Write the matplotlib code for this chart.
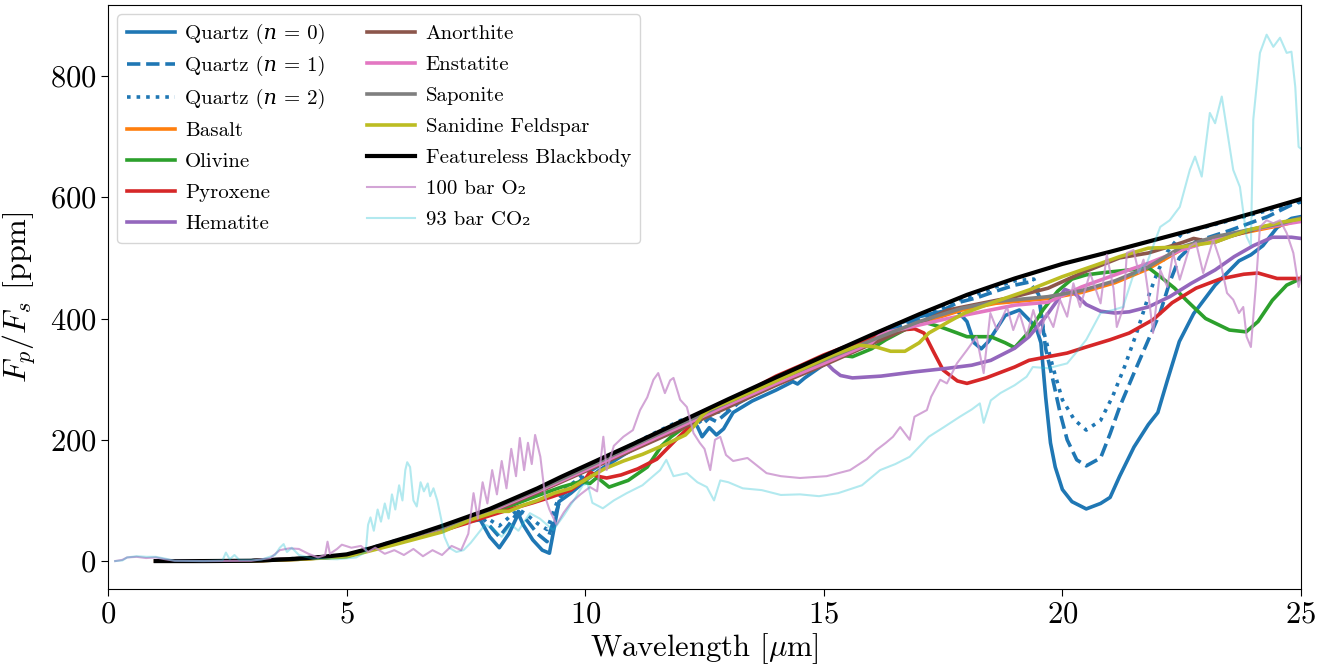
import numpy as np
import matplotlib
matplotlib.use("Agg")
import matplotlib.pyplot as plt

plt.rcParams['font.family'] = 'serif'
plt.rcParams['font.serif'] = ['cmr10', 'DejaVu Serif']
plt.rcParams['mathtext.fontset'] = 'cm'
plt.rcParams['axes.formatter.use_mathtext'] = True

# ---- data (wavelength in micron, Fp/Fs in ppm) ----
bb_wl = [1, 2, 3, 3.5, 4, 4.5, 5, 5.5, 6, 6.5, 7, 7.5, 8, 8.5, 9, 9.5, 10, 11, 12, 13, 14, 15, 16, 17, 18, 19, 20, 21, 22, 23, 24, 25]
bb_val = [0, 0, 0.5, 2, 4, 7, 11, 21, 33, 45, 58, 72, 86, 103, 120, 139, 157, 193, 230, 267, 303, 338, 373, 407, 439, 466, 490, 510, 531, 552, 574, 597]

q0_wl = [1, 2, 3, 4, 5, 6, 7, 7.5, 7.8, 8.0, 8.2, 8.4, 8.6, 8.7, 8.9, 9.1, 9.25, 9.35, 9.45, 9.7, 10, 10.3, 10.8, 11.3, 11.8, 12.2, 12.35, 12.45, 12.6, 12.75, 12.9, 13.1, 13.5, 14.0, 14.35, 14.45, 14.6, 15.2, 15.9, 16.5, 17.0, 17.5, 17.8, 18.0, 18.15, 18.3, 18.45, 18.8, 19.1, 19.3, 19.45, 19.55, 19.65, 19.75, 19.85, 20.0, 20.2, 20.5, 20.8, 21.0, 21.2, 21.5, 21.8, 22.0, 22.2, 22.45, 22.75, 23.2, 23.7, 23.95, 24.2, 24.5, 24.8, 25]
q0_val = [0, 0, 0.4, 4, 9, 31, 53, 65, 68, 40, 22, 45, 78, 60, 35, 18, 13, 55, 98, 112, 132, 150, 175, 198, 220, 234, 222, 205, 220, 208, 218, 245, 264, 282, 296, 292, 302, 335, 368, 390, 403, 412, 412, 395, 360, 350, 362, 405, 414, 398, 385, 360, 270, 195, 155, 118, 98, 86, 95, 105, 140, 188, 225, 245, 298, 362, 408, 455, 495, 505, 520, 550, 565, 568]

q1_wl = [1, 2, 3, 4, 5, 6, 7, 7.5, 7.8, 8.0, 8.2, 8.4, 8.6, 8.75, 9.0, 9.2, 9.35, 9.5, 9.8, 10.1, 10.5, 11, 11.5, 12, 12.35, 12.45, 12.6, 12.75, 12.9, 13.2, 13.6, 14, 14.5, 15, 15.5, 16, 16.5, 17, 17.5, 17.8, 18.2, 18.6, 19.0, 19.3, 19.5, 19.65, 19.8, 19.95, 20.1, 20.3, 20.5, 20.8, 21.0, 21.2, 21.5, 21.77, 22.05, 22.25, 22.45, 22.8, 23.5, 24.3, 25]
q1_val = [0, 0, 0.4, 4, 9, 32, 55, 68, 75, 58, 40, 60, 82, 70, 45, 32, 70, 108, 125, 148, 168, 190, 210, 230, 235, 225, 236, 230, 240, 260, 278, 295, 315, 332, 350, 368, 385, 400, 414, 426, 434, 445, 455, 460, 440, 350, 299, 245, 200, 167, 157, 170, 210, 254, 310, 359, 410, 460, 500, 527, 545, 568, 595]

q2_wl = [1, 2, 3, 4, 5, 6, 7, 7.5, 7.8, 8.0, 8.2, 8.4, 8.6, 8.75, 9.0, 9.2, 9.35, 9.5, 9.8, 10.1, 10.5, 11, 11.5, 12, 12.4, 12.6, 12.9, 13.2, 13.6, 14, 14.5, 15, 15.5, 16, 16.5, 17, 17.5, 17.8, 18.2, 18.6, 19.0, 19.4, 19.5, 19.6, 19.8, 20.0, 20.25, 20.5, 20.8, 21.05, 21.3, 21.55, 21.8, 22.0, 22.2, 22.5, 23, 24, 25]
q2_val = [0, 0, 0.45, 4.5, 9.5, 33, 56, 70, 80, 68, 58, 72, 85, 78, 62, 52, 85, 115, 132, 152, 172, 193, 213, 232, 238, 242, 248, 262, 280, 297, 317, 334, 352, 370, 387, 402, 418, 430, 440, 452, 462, 465, 447, 381, 320, 266, 233, 216, 232, 271, 320, 375, 436, 478, 510, 540, 551, 572, 592]

mineral_wl = [1, 2, 3, 4, 5, 6, 7, 8, 9, 10, 11, 12, 13, 14, 15, 16, 17, 17.9, 18.6, 19.7, 20.4, 21.1, 21.8, 22.5, 23.2, 23.9, 24.6, 25]
basalt_val = [0, 0, 0.4, 4, 9, 31, 54, 82, 115, 150, 187, 223, 259, 294, 328, 361, 392, 414, 425, 433, 443, 459, 482, 514, 531, 543, 554, 563]
saponite_val = [0, 0, 0.45, 4.5, 9.5, 32, 55, 84, 117, 153, 190, 226, 262, 298, 331, 364, 395, 417, 428, 436, 446, 462, 485, 518, 535, 546, 557, 566]

olivine_wl = [1, 2, 3, 4, 5, 6, 7, 8, 9, 9.5, 9.9, 10.1, 10.25, 10.5, 10.9, 11.3, 11.6, 11.8, 12.1, 12.5, 13, 13.5, 14, 14.5, 15, 15.3, 15.6, 16, 16.3, 16.9, 17.1, 17.45, 17.8, 18.0, 18.5, 18.8, 19.0, 19.3, 19.6, 19.9, 20.2, 20.5, 20.9, 21.4, 21.8, 22.1, 22.35, 22.6, 23.0, 23.5, 23.85, 24.1, 24.4, 24.7, 25]
olivine_val = [0, 0, 0.3, 3, 8, 29, 50, 78, 108, 122, 131, 128, 138, 122, 133, 155, 190, 205, 222, 240, 262, 282, 300, 318, 333, 340, 337, 350, 365, 390, 394, 386, 376, 370, 370, 360, 352, 378, 415, 445, 465, 472, 476, 480, 484, 466, 450, 430, 400, 381, 378, 395, 430, 455, 466]

pyroxene_wl = [1, 2, 3, 4, 5, 6, 7, 7.5, 8, 8.5, 8.9, 9.3, 9.7, 10.0, 10.1, 10.25, 10.45, 10.75, 11.1, 11.5, 11.9, 12.3, 12.7, 13, 13.5, 14, 14.5, 15, 15.5, 16, 16.6, 16.9, 17.1, 17.3, 17.5, 17.8, 18.0, 18.4, 19.0, 19.3, 19.7, 20.1, 20.5, 21.0, 21.4, 21.9, 22.3, 22.8, 23.3, 23.8, 24.1, 24.5, 25]
pyroxene_val = [0, 0, 0.3, 3, 8, 29, 50, 62, 75, 87, 96, 106, 117, 135, 147, 140, 137, 142, 152, 168, 200, 230, 244, 262, 284, 305, 322, 340, 355, 368, 381, 383, 376, 345, 315, 297, 293, 302, 320, 331, 337, 343, 353, 365, 376, 398, 426, 450, 465, 473, 475, 466, 466]

hematite_wl = [1, 2, 3, 4, 5, 6, 7, 8, 9, 10, 11, 12, 13, 14, 14.9, 15.06, 15.2, 15.35, 15.6, 16.2, 16.9, 17.6, 18.1, 18.5, 19.0, 19.3, 19.65, 19.95, 20.05, 20.25, 20.5, 20.8, 21.1, 21.4, 21.8, 22.25, 22.7, 23.2, 23.6, 24.0, 24.4, 24.8, 25]
hematite_val = [0, 0, 0.4, 4, 9, 31, 54, 82, 116, 152, 188, 226, 262, 298, 330, 326, 315, 306, 302, 305, 312, 318, 323, 331, 351, 370, 403, 436, 448, 442, 423, 412, 409, 411, 419, 436, 458, 480, 502, 520, 534, 534, 532]

anorthite_wl = [1, 2, 3, 4, 5, 6, 7, 8, 9, 10, 11, 12, 13, 14, 15, 16, 17, 17.6, 18.3, 19.0, 19.7, 20.4, 21.2, 21.8, 22.5, 22.75, 23.0, 23.2, 23.5, 24.2, 25]
anorthite_val = [0, 0, 0.4, 4, 9, 31, 53, 80, 113, 148, 183, 218, 254, 290, 323, 358, 392, 414, 425, 436, 450, 475, 500, 508, 525, 532, 528, 526, 535, 551, 563]

enstatite_wl = [1, 2, 3, 4, 5, 6, 7, 8, 9, 10, 11, 12, 13, 14, 15, 16, 16.2, 17.6, 19.0, 19.7, 20.4, 21.1, 21.8, 22.5, 23.2, 23.9, 25]
enstatite_val = [0, 0, 0.4, 4, 9, 31, 54, 82, 115, 150, 186, 222, 258, 293, 326, 360, 375, 400, 422, 427, 452, 472, 491, 513, 530, 546, 560]

sanidine_wl = [1, 2, 3, 4, 5, 6, 7, 7.6, 8.15, 8.4, 8.7, 9.0, 9.35, 9.7, 10.0, 10.4, 10.8, 11.2, 11.7, 12.1, 12.3, 12.45, 12.6, 13.1, 13.8, 14.5, 15.2, 15.75, 16.1, 16.4, 16.7, 17.0, 17.2, 17.6, 17.95, 18.6, 19.3, 20.0, 20.7, 21.2, 21.8, 22.5, 23.2, 23.9, 24.6, 25]
sanidine_val = [0, 0, 0.3, 3, 7, 27, 48, 68, 82, 82, 92, 100, 112, 120, 134, 152, 165, 176, 193, 208, 224, 240, 250, 266, 290, 315, 340, 356, 353, 346, 346, 360, 376, 394, 409, 428, 447, 469, 488, 502, 516, 518, 526, 546, 559, 564]

o2_wl = [0.15, 0.3, 0.4, 0.6, 0.8, 1.0, 1.2, 1.4, 2.0, 3.0, 3.4, 3.6, 3.8, 4.0, 4.2, 4.4, 4.55, 4.6, 4.65, 4.8, 4.9, 5.1, 5.3, 5.45, 5.6, 5.8, 6.0, 6.2, 6.4, 6.6, 6.8, 7.0, 7.2, 7.4, 7.55, 7.66, 7.75, 7.85, 7.95, 8.05, 8.15, 8.25, 8.35, 8.45, 8.55, 8.63, 8.72, 8.8, 8.88, 8.95, 9.06, 9.16, 9.25, 9.4, 9.55, 9.7, 9.9, 10.1, 10.25, 10.38, 10.45, 10.6, 10.8, 11.0, 11.15, 11.3, 11.43, 11.53, 11.67, 11.78, 11.85, 11.99, 12.13, 12.27, 12.4, 12.5, 12.62, 12.72, 12.83, 12.95, 13.1, 13.4, 13.8, 14.1, 14.5, 15.06, 15.55, 15.9, 16.1, 16.3, 16.45, 16.6, 16.8, 16.9, 17.16, 17.25, 17.44, 17.58, 17.79, 18.0, 18.2, 18.35, 18.49, 18.63, 18.84, 18.97, 19.1, 19.25, 19.39, 19.53, 19.67, 19.81, 19.95, 20.1, 20.23, 20.37, 20.58, 20.8, 20.93, 21.07, 21.14, 21.28, 21.35, 21.49, 21.6, 21.7, 21.8, 21.9, 22.05, 22.2, 22.32, 22.46, 22.67, 22.8, 22.95, 23.16, 23.3, 23.45, 23.58, 23.7, 23.79, 23.86, 23.95, 24.05, 24.14, 24.28, 24.42, 24.56, 24.7, 24.84, 24.95, 25.0]
o2_val = [0, 2, 6, 7, 5, 6, 3, 0.5, 0, 0.5, 5, 18, 21, 20, 12, 6, 10, 32, 12, 20, 27, 22, 25, 15, 22, 12, 18, 10, 20, 8, 18, 10, 25, 18, 45, 112, 70, 130, 95, 150, 110, 165, 120, 185, 140, 203, 150, 195, 160, 208, 172, 106, 85, 60, 80, 96, 110, 122, 115, 205, 150, 190, 205, 216, 249, 270, 299, 310, 277, 298, 302, 266, 254, 211, 195, 185, 150, 200, 205, 175, 165, 170, 145, 140, 137, 140, 150, 168, 183, 195, 205, 221, 200, 238, 249, 271, 299, 293, 326, 348, 370, 310, 409, 381, 419, 381, 409, 370, 414, 375, 409, 386, 431, 403, 458, 419, 475, 425, 505, 450, 386, 419, 508, 513, 475, 497, 442, 376, 480, 452, 508, 464, 519, 525, 475, 530, 497, 442, 431, 409, 419, 370, 353, 450, 551, 562, 557, 562, 541, 508, 452, 470]

co2_wl = [0.15, 0.3, 0.4, 0.6, 0.8, 1.0, 1.2, 1.4, 2.0, 2.4, 2.47, 2.55, 2.65, 2.75, 3.2, 3.5, 3.6, 3.68, 3.75, 3.85, 4.0, 4.3, 4.8, 5.2, 5.4, 5.45, 5.5, 5.57, 5.65, 5.72, 5.8, 5.88, 5.95, 6.02, 6.1, 6.17, 6.23, 6.27, 6.33, 6.4, 6.47, 6.55, 6.62, 6.7, 6.75, 6.82, 6.9, 6.98, 7.05, 7.15, 7.3, 7.45, 7.6, 7.75, 7.9, 8.05, 8.25, 8.45, 8.6, 8.84, 9.05, 9.33, 9.55, 9.8, 9.95, 10.05, 10.15, 10.37, 10.6, 10.87, 11.2, 11.57, 11.7, 11.85, 12.13, 12.35, 12.55, 12.7, 12.83, 13.0, 13.3, 13.7, 14.1, 14.5, 14.9, 15.3, 15.8, 16.18, 16.5, 16.8, 17.2, 17.5, 17.85, 18.1, 18.27, 18.35, 18.5, 18.7, 19.0, 19.25, 19.38, 19.7, 20.1, 20.3, 20.5, 20.8, 21.06, 21.27, 21.48, 21.77, 22.05, 22.25, 22.46, 22.67, 22.78, 22.92, 23.09, 23.2, 23.34, 23.45, 23.58, 23.72, 23.86, 23.95, 24.0, 24.14, 24.28, 24.42, 24.56, 24.7, 24.8, 24.88, 24.95, 25.0]
co2_val = [0, 1, 6, 8, 7, 7, 4, 0.5, 0, 1, 14, 3, 10, 2, 2, 10, 22, 28, 15, 22, 10, 4, 3, 6, 15, 60, 72, 50, 85, 65, 95, 70, 110, 85, 125, 100, 150, 163, 155, 100, 90, 130, 115, 128, 107, 120, 100, 70, 40, 22, 15, 18, 30, 45, 60, 55, 40, 60, 50, 79, 70, 51, 75, 105, 125, 128, 96, 87, 100, 112, 125, 150, 167, 140, 145, 130, 122, 100, 133, 130, 120, 117, 109, 110, 107, 112, 125, 150, 160, 172, 205, 220, 238, 250, 260, 228, 265, 277, 290, 304, 320, 318, 326, 345, 365, 409, 414, 419, 470, 491, 551, 562, 584, 645, 667, 634, 739, 722, 766, 711, 645, 617, 535, 520, 728, 838, 868, 848, 863, 838, 840, 782, 683, 680]

fig, ax = plt.subplots(figsize=(13.27, 6.64), dpi=100)
fig.subplots_adjust(left=0.0814, right=0.9804, bottom=0.113, top=0.9925)

lw = 2.6
ax.plot(q0_wl, q0_val, color='C0', lw=lw, label='Quartz (\U0001D45B = 0)')
ax.plot(q1_wl, q1_val, color='C0', lw=lw, ls='--', label='Quartz (\U0001D45B = 1)')
ax.plot(q2_wl, q2_val, color='C0', lw=lw, ls=':', label='Quartz (\U0001D45B = 2)')
ax.plot(mineral_wl, basalt_val, color='C1', lw=lw, label='Basalt')
ax.plot(olivine_wl, olivine_val, color='C2', lw=lw, label='Olivine')
ax.plot(pyroxene_wl, pyroxene_val, color='C3', lw=lw, label='Pyroxene')
ax.plot(hematite_wl, hematite_val, color='C4', lw=lw, label='Hematite')
ax.plot(anorthite_wl, anorthite_val, color='C5', lw=lw, label='Anorthite')
ax.plot(enstatite_wl, enstatite_val, color='C6', lw=lw, label='Enstatite')
ax.plot(mineral_wl, saponite_val, color='C7', lw=lw, label='Saponite')
ax.plot(sanidine_wl, sanidine_val, color='C8', lw=lw, label='Sanidine Feldspar')
ax.plot(bb_wl, bb_val, color='k', lw=3, label='Featureless Blackbody')
ax.plot(o2_wl, o2_val, color='#c88fcc', lw=1.5, alpha=0.8, label='100 bar O\u2082')
ax.plot(co2_wl, co2_val, color='C9', lw=1.5, alpha=0.33, label='93 bar CO\u2082')

ax.set_xlim(0, 25)
ax.set_ylim(-46, 917)
ax.set_xticks([0, 5, 10, 15, 20, 25])
ax.set_yticks([0, 200, 400, 600, 800])
ax.tick_params(labelsize=22, length=5)
ax.set_xlabel(r'Wavelength [$\mu$m]', fontsize=22, labelpad=2)
ax.set_ylabel(r'$F_p/F_s$ [ppm]', fontsize=23, labelpad=8)

ax.legend(loc='upper left', ncol=2, framealpha=0.8,
          prop={'family': ['cmr10', 'DejaVu Serif', 'DejaVu Sans'], 'size': 15},
          handlelength=2.3, handletextpad=0.5, columnspacing=2.0,
          borderpad=0.45, labelspacing=0.6, borderaxespad=0.45)

fig.savefig('out.png', dpi=100)
